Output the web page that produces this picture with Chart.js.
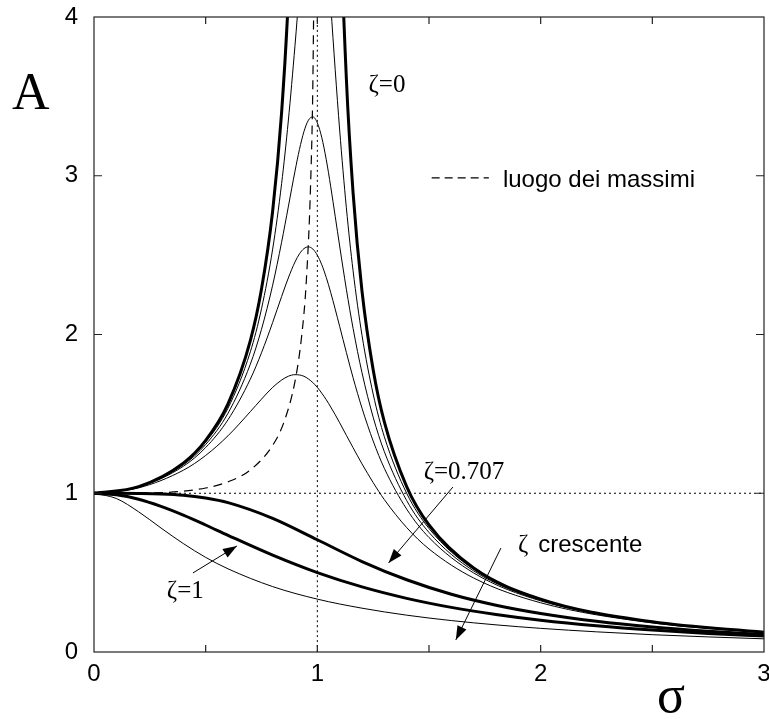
<!DOCTYPE html>
<html>
<head>
<meta charset="utf-8">
<script src="https://cdn.jsdelivr.net/npm/chart.js@4.4.1/dist/chart.umd.min.js"></script>
<style>
  body { margin: 0; background: #fff; }
  canvas { display: block; }
</style>
</head>
<body>
<canvas id="chart" width="769" height="719"></canvas>
<script>
// sigma grid for the low-damping curves (denser around resonance)
const sigmaFine = [0, 0.2, 0.4, 0.5, 0.6, 0.7, 0.75, 0.8, 0.84, 0.87, 0.9, 0.92, 0.94, 0.96, 0.98, 1.0,
  1.02, 1.04, 1.06, 1.08, 1.1, 1.13, 1.16, 1.2, 1.25, 1.3, 1.4, 1.5, 1.7, 2.0, 2.5, 3.0];

const zeta0 = [1, 1.042, 1.190, 1.333, 1.563, 1.961, 2.286, 2.778, 3.397, 4.114, 5.263, 6.51, null, null, null, null,
  null, null, null, 6.01, 4.762, 3.611, 2.894, 2.273, 1.778, 1.449, 1.042, 0.8, 0.529, 0.333, 0.190, 0.125];
const zeta010 = [1, 1.041, 1.185, 1.322, 1.536, 1.891, 2.162, 2.538, 2.950, 3.345, 3.821, 4.172, 4.523, 4.822, 5.001, 5.0,
  4.809, 4.476, 4.075, 3.668, 3.288, 2.798, 2.402, 1.995, 1.625, 1.356, 1.0, 0.778, 0.521, 0.330, 0.190, 0.125];
const zeta015 = [1, 1.040, 1.179, 1.307, 1.504, 1.813, 2.033, 2.311, 2.581, 2.804, 3.029, 3.166, 3.278, 3.350, 3.371, 3.333,
  3.240, 3.101, 2.931, 2.745, 2.557, 2.285, 2.039, 1.759, 1.479, 1.262, 0.954, 0.753, 0.511, 0.327, 0.189, 0.124];
const zeta020 = [1, 1.038, 1.170, 1.288, 1.463, 1.719, 1.885, 2.076, 2.239, 2.356, 2.457, 2.508, 2.541, 2.552, 2.538, 2.5,
  2.439, 2.359, 2.264, 2.160, 2.051, 1.887, 1.728, 1.536, 1.329, 1.157, 0.900, 0.721, 0.498, 0.322, 0.187, 0.124];
const zeta030 = [1, 1.034, 1.145, 1.238, 1.362, 1.514, 1.593, 1.667, 1.713, 1.737, 1.747, 1.745, 1.737, 1.720, 1.697, 1.667,
  1.630, 1.589, 1.543, 1.495, 1.444, 1.365, 1.287, 1.185, 1.067, 0.960, 0.784, 0.649, 0.466, 0.310, 0.183, 0.122];

// sigma grid for the heavily damped curves
const sigmaCoarse = [0, 0.1, 0.2, 0.3, 0.4, 0.5, 0.6, 0.8, 1.0, 1.2, 1.4, 1.6, 1.8, 2.0, 2.25, 2.5, 2.75, 3.0];
const zeta0707 = [1, 1.0, 0.999, 0.996, 0.988, 0.970, 0.941, 0.842, 0.707, 0.570, 0.455, 0.364, 0.295, 0.243, 0.194, 0.158, 0.131, 0.110];
const zeta100 = [1, 0.990, 0.962, 0.917, 0.862, 0.8, 0.735, 0.610, 0.5, 0.410, 0.338, 0.281, 0.236, 0.2, 0.165, 0.138, 0.117, 0.1];
const zeta150 = [1, 0.967, 0.883, 0.781, 0.683, 0.596, 0.524, 0.412, 0.333, 0.276, 0.232, 0.198, 0.171, 0.149, 0.127, 0.109, 0.095, 0.083];

// locus of the maxima
const sigmaLocus = [0, 0.3, 0.5, 0.6, 0.7, 0.8, 0.85, 0.9, 0.93, 0.95, 0.97, 0.98, 0.99];
const locusA = [1, 1.004, 1.033, 1.072, 1.147, 1.302, 1.446, 1.705, 1.992, 2.322, 2.953, 3.589, 5.038];

// dotted reference lines
const hRefSigma = [0, 3];
const hRefA = [1, 1];
const vRefSigma = [1, 1];
const vRefA = [0, 4];

// axes
const xLabelValues = [0, 1, 2, 3];
const xTickMarks = [0.5, 1, 1.5, 2, 2.5];
const yTickMarks = [1, 2, 3];

const toPoints = (xs, ys) => xs.map((v, i) => ({ x: v, y: ys[i] }));

function curve(xs, ys, width, dash) {
  return {
    data: toPoints(xs, ys),
    borderColor: "#000",
    borderWidth: width,
    borderDash: dash || [],
    pointRadius: 0,
    fill: false,
    cubicInterpolationMode: "monotone",
    spanGaps: false,
  };
}

function arrow(ctx, x0, y0, x1, y1) {
  ctx.beginPath();
  ctx.moveTo(x0, y0);
  ctx.lineTo(x1, y1);
  ctx.stroke();
  const ang = Math.atan2(y1 - y0, x1 - x0);
  const len = 14, half = 5;
  const bx = x1 - len * Math.cos(ang), by = y1 - len * Math.sin(ang);
  ctx.beginPath();
  ctx.moveTo(x1, y1);
  ctx.lineTo(bx + half * Math.sin(ang), by - half * Math.cos(ang));
  ctx.lineTo(bx - half * Math.sin(ang), by + half * Math.cos(ang));
  ctx.closePath();
  ctx.fill();
}

const decorations = {
  id: "decorations",
  afterDraw(chart) {
    const { ctx, chartArea: area, scales } = chart;
    const px = (s) => scales.x.getPixelForValue(s);
    const py = (a) => scales.y.getPixelForValue(a);
    ctx.save();
    ctx.strokeStyle = "#222";
    ctx.fillStyle = "#000";
    ctx.lineWidth = 1.2;
    ctx.strokeRect(area.left, area.top, area.right - area.left, area.bottom - area.top);

    // inward tick marks
    ctx.beginPath();
    xTickMarks.forEach((v) => {
      ctx.moveTo(px(v), area.bottom);
      ctx.lineTo(px(v), area.bottom - 7);
      ctx.moveTo(px(v), area.top);
      ctx.lineTo(px(v), area.top + 7);
    });
    yTickMarks.forEach((v) => {
      ctx.moveTo(area.left, py(v));
      ctx.lineTo(area.left + 8, py(v));
      ctx.moveTo(area.right, py(v));
      ctx.lineTo(area.right - 8, py(v));
    });
    ctx.stroke();

    // axis titles
    ctx.font = "52px 'Liberation Serif'";
    ctx.textBaseline = "alphabetic";
    ctx.textAlign = "left";
    ctx.fillText("A", 12, 109);
    ctx.textAlign = "center";
    ctx.fillText("σ", 671, 712);

    // curve labels
    ctx.textAlign = "left";
    ctx.font = "25px 'Liberation Serif'";
    ctx.fillText("ζ=0", px(1.229), py(3.528));
    ctx.fillText("ζ=0.707", px(1.476), py(1.09));
    ctx.fillText("ζ=1", px(0.326), py(0.34));
    ctx.fillText("ζ", px(1.899), py(0.63));
    ctx.font = "24px 'Liberation Sans'";
    ctx.fillText("crescente", px(1.989), py(0.63));

    // legend of the dashed locus
    ctx.textBaseline = "middle";
    ctx.fillText("luogo dei massimi", px(1.831), py(2.97));
    ctx.lineWidth = 1.2;
    ctx.strokeStyle = "#000";
    ctx.setLineDash([8, 5]);
    ctx.beginPath();
    ctx.moveTo(px(1.512), py(2.986));
    ctx.lineTo(px(1.768), py(2.986));
    ctx.stroke();
    ctx.setLineDash([]);

    // arrows
    ctx.lineWidth = 1;
    arrow(ctx, px(1.607), py(1.039), px(1.319), py(0.561));
    arrow(ctx, px(1.822), py(0.655), px(1.62), py(0.076));
    arrow(ctx, px(0.443), py(0.498), px(0.64), py(0.668));
    ctx.restore();
  },
};

const ctx = document.getElementById("chart").getContext("2d");

new Chart(ctx, {
  type: "line",
  data: {
    datasets: [
      curve(hRefSigma, hRefA, 1, [2, 3]),
      curve(vRefSigma, vRefA, 1, [2, 3]),
      curve(sigmaLocus, locusA, 1.2, [9, 6]),
      curve(sigmaFine, zeta0, 3),
      curve(sigmaFine, zeta010, 1),
      curve(sigmaFine, zeta015, 1),
      curve(sigmaFine, zeta020, 1),
      curve(sigmaFine, zeta030, 1),
      curve(sigmaCoarse, zeta0707, 3),
      curve(sigmaCoarse, zeta100, 3),
      curve(sigmaCoarse, zeta150, 1),
    ],
  },
  options: {
    responsive: false,
    animation: false,
    layout: { padding: { top: 17, right: 5, left: 0, bottom: 0 } },
    plugins: {
      legend: { display: false },
      tooltip: { enabled: false },
    },
    scales: {
      x: {
        type: "linear",
        min: 0,
        max: 3,
        afterFit: (scale) => {
          scale.height = 67;
          scale.paddingLeft = 0;
          scale.paddingRight = 0;
        },
        ticks: {
          stepSize: 0.5,
          autoSkip: false,
          maxRotation: 0,
          padding: 8,
          color: "#000",
          font: { family: "'Liberation Sans'", size: 24 },
          callback: (v) => (xLabelValues.includes(v) ? String(v) : ""),
        },
        grid: { display: false, drawTicks: false },
        border: { display: false },
      },
      y: {
        min: 0,
        max: 4,
        afterFit: (scale) => {
          scale.width = 94;
          scale.paddingTop = 0;
          scale.paddingBottom = 0;
        },
        ticks: {
          stepSize: 1,
          padding: 16,
          color: "#000",
          font: { family: "'Liberation Sans'", size: 24 },
        },
        grid: { display: false, drawTicks: false },
        border: { display: false },
      },
    },
  },
  plugins: [decorations],
});
</script>
</body>
</html>
